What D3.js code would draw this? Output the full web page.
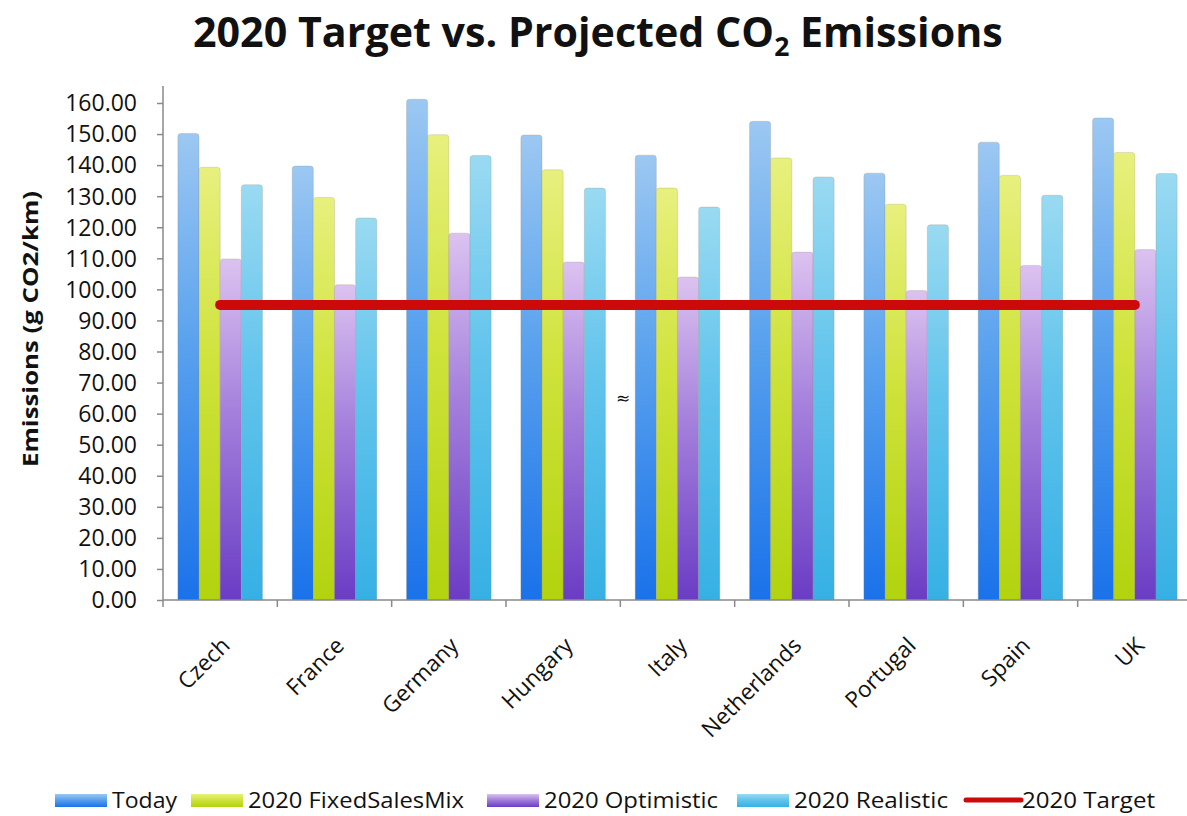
<!DOCTYPE html>
<html>
<head>
<meta charset="utf-8">
<script src="https://cdn.jsdelivr.net/npm/d3@7"></script>
<style>
  html, body { margin: 0; padding: 0; background: #ffffff; }
  svg { display: block; font-family: "Open Sans", "Noto Sans", sans-serif; }
</style>
</head>
<body>
<svg id="chart" width="1187" height="816"></svg>
<script>
// Average new-car CO2 emissions by country, g CO2/km
const categories = ["Czech", "France", "Germany", "Hungary", "Italy", "Netherlands", "Portugal", "Spain", "UK"];
const today         = [150.2, 139.7, 161.2, 149.7, 143.2, 154.1, 137.4, 147.4, 155.2];
const fixedSalesMix = [139.3, 129.6, 149.8, 138.5, 132.6, 142.3, 127.4, 136.7, 144.1];
const optimistic    = [109.8, 101.5, 118.1, 108.8, 104.0, 112.0,  99.6, 107.7, 112.8];
const realistic     = [133.7, 123.0, 143.1, 132.6, 126.5, 136.2, 120.8, 130.3, 137.3];
const target2020 = 95;
const seriesNames = ["Today", "2020 FixedSalesMix", "2020 Optimistic", "2020 Realistic"];
const yTickValues = [0, 10, 20, 30, 40, 50, 60, 70, 80, 90, 100, 110, 120, 130, 140, 150, 160];

// Gradient fills: light at the top of each bar, saturated at the base
const seriesGradients = [
  ["#9cc8f2", "#5aa2ee", "#1a72ea"],
  ["#e8f07e", "#cfe33c", "#b2d30e"],
  ["#dcc2f0", "#a480dc", "#6a3cc4"],
  ["#9adaf2", "#62c4ec", "#36b0e4"]
];

const seriesValues = [today, fixedSalesMix, optimistic, realistic];
const data = categories.map((c, i) => ({
  category: c,
  values: seriesValues.map((arr, s) => ({ s, value: arr[i] }))
}));

const svg = d3.select("#chart");
const defs = svg.append("defs");

seriesGradients.forEach((stops, s) => {
  const g = defs.append("linearGradient")
    .attr("id", "grad" + s)
    .attr("x1", 0).attr("y1", 0).attr("x2", 0).attr("y2", 1);
  g.append("stop").attr("offset", "0%").attr("stop-color", stops[0]);
  g.append("stop").attr("offset", "45%").attr("stop-color", stops[1]);
  g.append("stop").attr("offset", "100%").attr("stop-color", stops[2]);
});

const plot = { left: 163, right: 1192, top: 103, bottom: 600 };

const x0 = d3.scaleBand()
  .domain(categories)
  .range([plot.left, plot.right])
  .paddingInner(0.26)
  .paddingOuter(0.13);

const x1 = d3.scaleBand()
  .domain(d3.range(seriesNames.length))
  .range([0, x0.bandwidth()]);

const y = d3.scaleLinear().domain([0, 160]).range([plot.bottom, plot.top]);

// Title with subscript
const title = svg.append("text")
  .attr("x", 0).attr("y", 0)
  .attr("font-weight", 700)
  .attr("font-size", 42)
  .attr("fill", "#111");
title.append("tspan").text("2020 Target vs. Projected CO");
title.append("tspan").attr("font-size", 27).attr("dy", 9).text("2");
title.append("tspan").attr("dy", -9).text(" Emissions");
{
  const bb = title.node().getBBox();
  const targetW = 810;
  const sx = targetW / bb.width;
  title.attr("transform", `translate(${598 - targetW / 2 - bb.x * sx},47) scale(${sx},1)`);
}

// Bars with slightly rounded tops
function barPath(x, yTop, w, yBase, r) {
  r = Math.min(r, w / 2, (yBase - yTop));
  return `M${x},${yBase} V${yTop + r} Q${x},${yTop} ${x + r},${yTop} H${x + w - r} Q${x + w},${yTop} ${x + w},${yTop + r} V${yBase} Z`;
}

const groups = svg.append("g").selectAll("g")
  .data(data)
  .join("g")
  .attr("transform", d => `translate(${x0(d.category)},0)`);

groups.selectAll("path")
  .data(d => d.values)
  .join("path")
  .attr("d", d => barPath(x1(d.s), y(d.value), x1.bandwidth(), y(0), 3))
  .attr("fill", d => `url(#grad${d.s})`)
  .attr("stroke", "rgba(150,140,120,0.25)")
  .attr("stroke-width", 1);

// 2020 target line spanning the category centres
const lineData = [categories[0], categories[categories.length - 1]].map(c => ({ c, v: target2020 }));
svg.append("path")
  .datum(lineData)
  .attr("d", d3.line().x(d => x0(d.c) + x0.bandwidth() / 2).y(d => y(d.v)))
  .attr("stroke", "#cc0a0a")
  .attr("stroke-width", 10)
  .attr("stroke-linecap", "round")
  .attr("fill", "none");

// Y axis
const axisColor = "#8a8a8a";
const yAxis = svg.append("g")
  .attr("transform", `translate(${plot.left},0)`)
  .call(d3.axisLeft(y).tickValues(yTickValues).tickFormat(d3.format(".2f")).tickSize(6).tickPadding(20));
yAxis.select(".domain").remove();
yAxis.selectAll(".tick line").attr("stroke", axisColor).attr("stroke-width", 1.5);
yAxis.selectAll(".tick text")
  .attr("font-family", "Open Sans")
  .attr("font-size", 23)
  .attr("dy", "0.34em")
  .attr("fill", "#111");
svg.append("line")
  .attr("x1", plot.left).attr("x2", plot.left)
  .attr("y1", y(0)).attr("y2", y(165.5))
  .attr("stroke", axisColor).attr("stroke-width", 1.5);

// X axis: line, boundary ticks and rotated category labels
svg.append("line")
  .attr("x1", plot.left).attr("x2", plot.right)
  .attr("y1", y(0)).attr("y2", y(0))
  .attr("stroke", axisColor).attr("stroke-width", 1.5);
const boundaries = d3.range(categories.length + 1).map(i => plot.left + i * x0.step());
svg.append("g").selectAll("line")
  .data(boundaries)
  .join("line")
  .attr("x1", d => d).attr("x2", d => d)
  .attr("y1", y(0)).attr("y2", y(0) + 7)
  .attr("stroke", axisColor).attr("stroke-width", 1.5);

const xAxis = svg.append("g")
  .attr("transform", `translate(0,${y(0)})`)
  .call(d3.axisBottom(x0).tickSize(0).tickPadding(0));
xAxis.select(".domain").remove();
xAxis.selectAll(".tick text")
  .attr("font-family", "Open Sans")
  .attr("font-size", 22.5)
  .attr("fill", "#111")
  .attr("text-anchor", "end")
  .attr("dy", 0)
  .attr("transform", "translate(11,47) rotate(-45)");

// Y axis title
svg.append("text")
  .attr("transform", "translate(38,329) rotate(-90)")
  .attr("text-anchor", "middle")
  .attr("font-weight", 700)
  .attr("font-size", 22)
  .attr("textLength", 276)
  .attr("lengthAdjust", "spacingAndGlyphs")
  .attr("fill", "#111")
  .text("Emissions (g CO2/km)");

// Small mark in the plot area
svg.append("text")
  .attr("x", 623).attr("y", 404)
  .attr("text-anchor", "middle")
  .attr("font-family", "DejaVu Sans")
  .attr("font-size", 17)
  .attr("fill", "#111")
  .text("≈");

// Legend
const legendItems = [
  { name: seriesNames[0], kind: "bar", s: 0, x: 55, w: 65 },
  { name: seriesNames[1], kind: "bar", s: 1, x: 191, w: 216 },
  { name: seriesNames[2], kind: "bar", s: 2, x: 487, w: 174 },
  { name: seriesNames[3], kind: "bar", s: 3, x: 737, w: 154 },
  { name: "2020 Target", kind: "line", x: 966, w: 133 }
];
const legend = svg.append("g").attr("transform", "translate(0,800)");
const li = legend.selectAll("g").data(legendItems).join("g")
  .attr("transform", d => `translate(${d.x},0)`);
li.filter(d => d.kind === "bar").append("rect")
  .attr("x", 0).attr("y", -6).attr("width", 52).attr("height", 13)
  .attr("fill", d => `url(#grad${d.s})`);
li.filter(d => d.kind === "line").append("line")
  .attr("x1", 0).attr("x2", 55).attr("y1", 0).attr("y2", 0)
  .attr("stroke", "#cc0a0a").attr("stroke-width", 5).attr("stroke-linecap", "round");
li.append("text")
  .attr("x", d => d.kind === "line" ? 56 : 57)
  .attr("y", 0)
  .attr("dy", "0.36em")
  .attr("font-size", 22)
  .attr("textLength", d => d.w)
  .attr("lengthAdjust", "spacingAndGlyphs")
  .attr("fill", "#111")
  .text(d => d.name);
</script>
</body>
</html>
